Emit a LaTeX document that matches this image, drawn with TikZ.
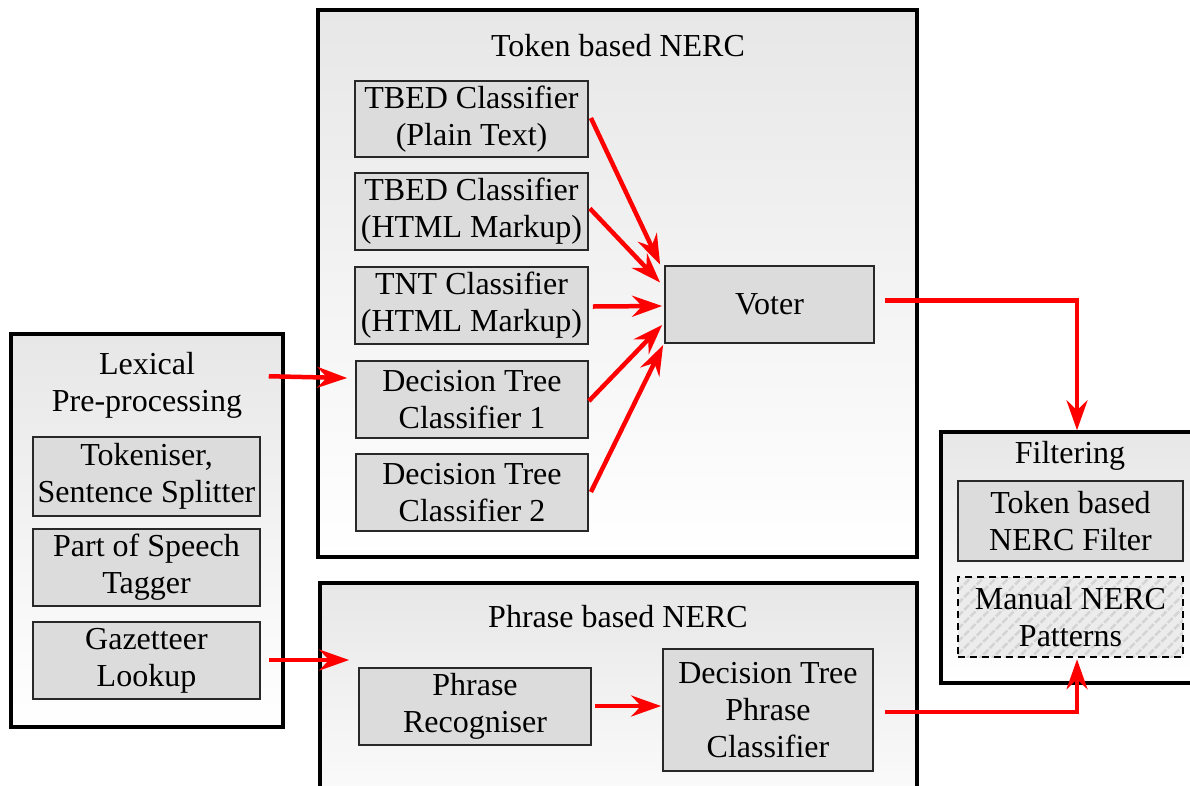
\documentclass[tikz,border=0pt]{standalone}
\usepackage{fontspec}
\setmainfont{Liberation Serif}
\usetikzlibrary{arrows.meta,patterns.meta,calc}
\definecolor{grptop}{RGB}{231,231,231}
\definecolor{boxfill}{RGB}{220,220,220}
\definecolor{boxline}{RGB}{40,40,40}
\definecolor{hatchbg}{RGB}{236,236,236}
\definecolor{hatchln}{RGB}{212,212,212}
\begin{document}
\begin{tikzpicture}[x=1pt,y=-1pt,
  every node/.style={font=\fontsize{32}{37}\selectfont, align=center, inner sep=0pt},
  group/.style={draw=black, line width=3.5pt, top color=grptop, bottom color=white},
  box/.style={draw=boxline, line width=1.8pt, fill=boxfill},
  hatchbox/.style={draw=black, line width=1.8pt, dash pattern=on 7pt off 5pt,
     preaction={fill=hatchbg}, pattern={Lines[angle=45,distance=9pt,line width=2.5pt]}, pattern color=hatchln},
  arr/.style={draw=red, line width=4.5pt, -{Stealth[length=30pt,width=21pt,inset=10pt]}},
  lbl/.style={}
]
\clip (0,0) rectangle (1190,785);
\useasboundingbox (0,0) rectangle (1190,785);

% containers
\node[group, minimum width=272, minimum height=393] (lex) at (147,530.5) {};
\node[group, minimum width=599, minimum height=547] (tok) at (617.5,283.5) {};
\node[group, minimum width=597, minimum height=260] (phr) at (618.5,713) {};
\node[group, minimum width=262, minimum height=251] (filt) at (1072,557.5) {};

% titles
\node[lbl] (lext) at (147,385) {Lexical\\Pre-processing};
\node[lbl] (tokt) at (618,46) {Token based NERC};
\node[lbl] (phrt) at (618,617) {Phrase based NERC};
\node[lbl] (filtt) at (1070,456) {Filtering};

% lexical inner boxes
\node[box, minimum width=227, minimum height=79] (tks) at (146.5,476.5) {Tokeniser,\\Sentence Splitter};
\node[box, minimum width=227, minimum height=77] (pos) at (146.5,567.5) {Part of Speech\\Tagger};
\node[box, minimum width=227, minimum height=77] (gaz) at (146.5,660.5) {Gazetteer\\Lookup};

% token classifiers
\node[box, minimum width=233, minimum height=76] (tp) at (471.5,119) {TBED Classifier\\(Plain Text)};
\node[box, minimum width=233, minimum height=77] (th) at (471.5,211.5) {TBED Classifier\\(HTML Markup)};
\node[box, minimum width=233, minimum height=77] (tnt) at (471.5,305.5) {TNT Classifier\\(HTML Markup)};
\node[box, minimum width=232, minimum height=77] (dt1) at (472,399.5) {Decision Tree\\Classifier 1};
\node[box, minimum width=232, minimum height=77] (dt2) at (472,492.5) {Decision Tree\\Classifier 2};
\node[box, minimum width=209, minimum height=77] (voter) at (769.5,304.5) {Voter};

% phrase based
\node[box, minimum width=232, minimum height=77] (pr) at (475,706.5) {Phrase\\Recogniser};
\node[box, minimum width=210, minimum height=122] (dtp) at (768,710) {Decision Tree\\Phrase\\Classifier};

% filtering
\node[box, minimum width=225, minimum height=80] (tf) at (1070.5,521) {Token based\\NERC Filter};
\node[hatchbox, minimum width=225, minimum height=80] (man) at (1070.5,617) {Manual NERC\\Patterns};

% connectors
\draw[arr] ($(tp.east)+(2,-1)$) -- ($(voter.west)+(-4,-40)$);
\draw[arr] ($(th.east)+(1,-3)$) -- ($(voter.west)+(-4,-22)$);
\draw[arr] ($(tnt.east)+(4,1)$) -- ($(voter.west)+(-2,1.5)$);
\draw[arr] ($(dt1.east)+(0,1.5)$) -- ($(voter.west)+(-2,20.5)$);
\draw[arr] ($(dt2.east)+(2,-0.5)$) -- ($(voter.west)+(-1,40.5)$);

\draw[arr] ($(voter.east)+(10,-4)$) -| ($(filt.north)+(5,0)$);
\draw[arr] ($(dtp.east)+(11,2)$) -| ($(man.south)+(6.5,1)$);

\draw[arr] ($(lex.north east)+(-16,44)$) -- ($(dt1.west)+(-8,-21.5)$);
\draw[arr] ($(gaz.east)+(8,-0.5)$) -- ($(gaz.east -| pr.west)+(-9,-0.5)$);
\draw[arr] ($(pr.east)+(3,-0.5)$) -- ($(dtp.west)+(-1,-4)$);
\end{tikzpicture}
\end{document}
